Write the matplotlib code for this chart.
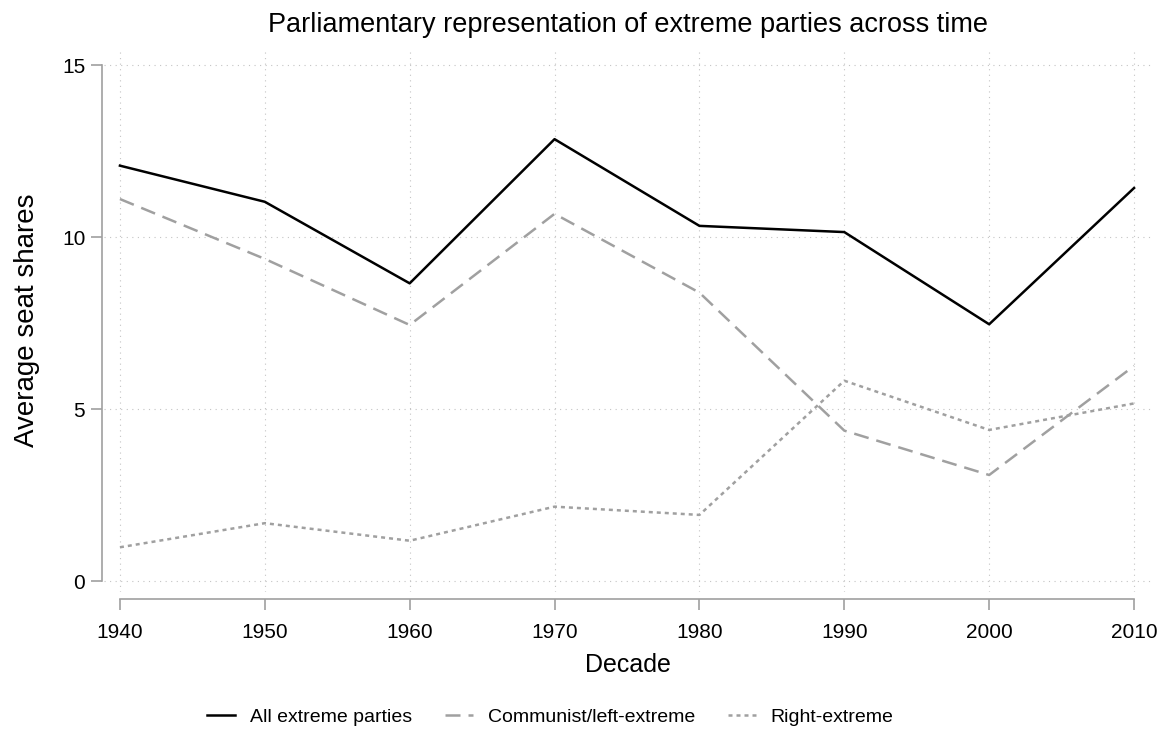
import matplotlib.pyplot as plt

plt.rcParams['font.family'] = ['Liberation Sans', 'DejaVu Sans']

decades = [1940, 1950, 1960, 1970, 1980, 1990, 2000, 2010]
all_extreme = [12.08, 11.03, 8.66, 12.85, 10.33, 10.15, 7.47, 11.43]
left_extreme = [11.11, 9.37, 7.45, 10.68, 8.39, 4.38, 3.09, 6.26]
right_extreme = [0.99, 1.69, 1.18, 2.17, 1.93, 5.83, 4.40, 5.17]

W, H = 1161, 740
fig = plt.figure(figsize=(W / 100, H / 100), dpi=100)
ax = fig.add_axes([104 / W, 1 - 592 / H, (1152 - 104) / W, (592 - 49) / H])

grey = '#a0a0a0'
ax.plot(decades, all_extreme, color='black', lw=1.8, label='All extreme parties')
ax.plot(decades, left_extreme, color=grey, lw=1.8, dashes=(6, 3.2),
        label='Communist/left-extreme')
ax.plot(decades, right_extreme, color=grey, lw=1.8, dashes=(1.6, 1.6),
        label='Right-extreme')

ax.set_xlim(1938.9, 2011.24)
ax.set_ylim(-0.31, 15.47)
ax.set_xticks(decades)
ax.set_yticks([0, 5, 10, 15])
ax.grid(True, color='#c4c4c4', lw=0.8, linestyle=(0, (1, 4)))

for side in ('top', 'right'):
    ax.spines[side].set_visible(False)
ax.spines['left'].set_position(('outward', 1.5))
ax.spines['bottom'].set_position(('outward', 5))
ax.spines['left'].set_bounds(0, 15)
ax.spines['bottom'].set_bounds(1940, 2010)
for side in ('left', 'bottom'):
    ax.spines[side].set_color(grey)
    ax.spines[side].set_linewidth(1.2)
ax.tick_params(colors=grey, width=1.2, length=8, labelcolor='black', labelsize=15)
ax.tick_params(axis='x', pad=9)
ax.tick_params(axis='y', pad=4)

ax.set_xlabel('Decade', fontsize=18, labelpad=8)
ax.set_ylabel('Average seat shares', fontsize=20, labelpad=16)
ax.set_title('Parliamentary representation of extreme parties across time',
             fontsize=19.5, pad=12)

fig.legend(loc='center', bbox_to_anchor=(0.474, 1 - 717 / H), ncol=3,
           frameon=False, fontsize=14, handlelength=1.45, handletextpad=0.75,
           columnspacing=1.7)

fig.savefig('out.png', dpi=100)
